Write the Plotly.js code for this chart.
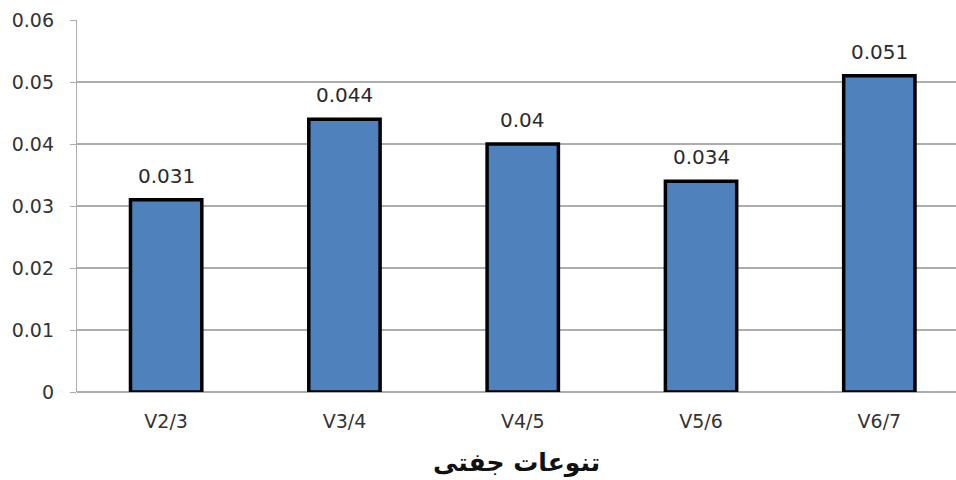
<!DOCTYPE html>
<html>
<head>
<meta charset="utf-8">
<script src="https://cdn.plot.ly/plotly-3.0.1.min.js"></script>
<style>html,body{margin:0;padding:0;background:#fff;}#chart{width:956px;height:480px;}</style>
</head>
<body>
<div id="chart"></div>
<script>
const categories = ["V2/3", "V3/4", "V4/5", "V5/6", "V6/7"];
const values = [0.031, 0.044, 0.04, 0.034, 0.051];
const valueLabels = ["0.031", "0.044", "0.04", "0.034", "0.051"];
const yTickVals = [0, 0.01, 0.02, 0.03, 0.04, 0.05, 0.06];
const yTickText = ["0", "0.01", "0.02", "0.03", "0.04", "0.05", "0.06"];
const xTitle = "تنوعات جفتی";

const FONT = "DejaVu Sans, sans-serif";

const trace = {
  type: "bar",
  x: categories,
  y: values,
  width: 0.4,
  marker: {color: "#4F81BD", line: {color: "#000", width: 3.5}},
  hoverinfo: "none"
};

const annotations = categories.map((c, i) => ({
  x: c, y: values[i], xref: "x", yref: "y",
  text: valueLabels[i], showarrow: false,
  yanchor: "bottom", yshift: 10,
  font: {family: FONT, size: 20, color: "#2a2a2a"}
}));

const layout = {
  width: 956, height: 480,
  margin: {l: 77, r: 0, t: 20, b: 88},
  paper_bgcolor: "#fff", plot_bgcolor: "#fff",
  showlegend: false,
  font: {family: FONT, color: "#333"},
  annotations: annotations,
  xaxis: {
    type: "category",
    range: [-0.5, 4.43],
    showgrid: false,
    showline: false,
    ticks: "",
    ticklabelstandoff: 16,
    tickfont: {family: FONT, size: 19, color: "#333"},
    title: {text: xTitle, font: {family: "DejaVu Sans, Noto Sans, sans-serif", size: 25, color: "#111", weight: "bold"}, standoff: 22}
  },
  yaxis: {
    range: [0, 0.06],
    tickvals: yTickVals,
    ticktext: yTickText,
    showgrid: true,
    gridcolor: "#adadad",
    gridwidth: 1.2,
    zeroline: true,
    zerolinecolor: "#adadad",
    zerolinewidth: 1.2,
    showline: true,
    linecolor: "#adadad",
    linewidth: 1.2,
    ticks: "outside",
    ticklen: 6,
    tickcolor: "#adadad",
    ticklabelstandoff: 12,
    tickfont: {family: FONT, size: 19, color: "#333"}
  }
};

Plotly.newPlot("chart", [trace], layout, {staticPlot: true, displayModeBar: false});
</script>
</body>
</html>
